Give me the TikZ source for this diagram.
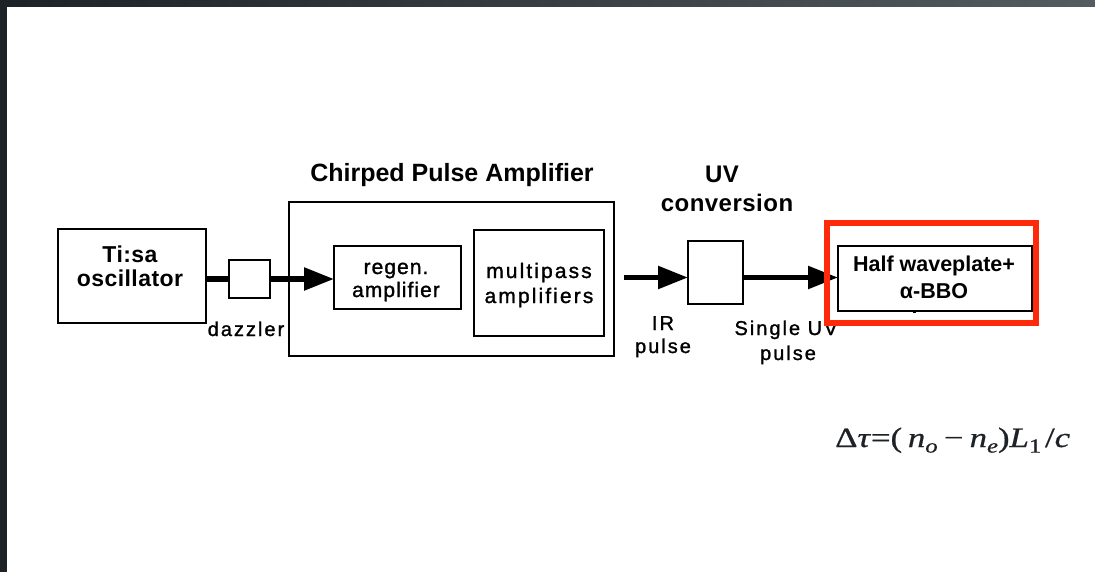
\documentclass[tikz,border=0pt]{standalone}
\usepackage{fontspec}
\usepackage{graphicx}
\setmainfont{Liberation Sans}
\newfontfamily\wideface[LetterSpace=10, FakeBold=1.3]{Liberation Sans}
\newfontfamily\headface[LetterSpace=2]{Liberation Sans}
\newfontfamily\eqface[FakeBold=0.6]{Liberation Serif}
\usetikzlibrary{arrows.meta}
\definecolor{slateframe}{HTML}{1C2226}
\definecolor{slatelight}{HTML}{535C61}
\definecolor{markred}{HTML}{FF2A0A}
\definecolor{formulaink}{HTML}{1E2226}
\tikzset{
  box/.style={draw, line width=2pt, inner sep=0pt, outer sep=0pt},
  beam/.style={line width=5.5pt},
  beamtip/.style={beam, -{Triangle[length=30pt,width=22pt]}},
  boldlbl/.style={anchor=base, inner sep=0pt, font=\fontsize{23}{26}\headface\bfseries},
  plainlbl/.style={anchor=base, inner sep=0pt, font=\fontsize{21}{24}\wideface},
  smalllbl/.style={anchor=base, inner sep=0pt, font=\fontsize{20}{24}\wideface},
}
\newcommand{\eqsub}[1]{\raisebox{-0.2em}{\fontsize{20}{24}\selectfont#1}}
\begin{document}
\begin{tikzpicture}[x=1pt,y=-1pt]
\useasboundingbox (0,0) rectangle (1095,572);
% slide frame
\fill[slateframe] (0,0) rectangle (1095,572);
\shade[left color=slateframe, right color=slatelight] (0,0) rectangle (1095,7);
\fill[white] (7,7) rectangle (1095,572);

% blocks
\node[box, minimum width=148pt, minimum height=94pt] (osc) at (132,276) {};
\node[box, minimum width=41pt, minimum height=38pt] (dazz) at (249.5,279) {};
\node[box, minimum width=325pt, minimum height=154pt] (cpa) at (451.5,279) {};
\node[box, minimum width=127pt, minimum height=63pt] (regen) at (397.5,277.5) {};
\node[box, minimum width=130pt, minimum height=106pt] (multi) at (539,283) {};
\node[box, minimum width=55pt, minimum height=63pt] (uv) at (715.5,272.5) {};
\node[box, minimum width=194pt, minimum height=65pt] (hwp) at (935,278.5) {};
\fill (912.5,309.5) rectangle (916,313);

% block texts
\node[boldlbl] (osc1) at (130,262) {Ti:sa};
\node[boldlbl] (osc2) at (130,287) {oscillator};
\node[boldlbl, font=\fontsize{25}{28}\selectfont\bfseries] (cpat) at (452,182) {Chirped Pulse Amplifier};
\node[plainlbl, font=\fontsize{21}{24}\wideface\addfontfeature{LetterSpace=5}] (regen1) at (396,274) {regen.};
\node[plainlbl, font=\fontsize{21}{24}\wideface\addfontfeature{LetterSpace=5}] (regen2) at (396,297) {amplifier};
\node[plainlbl] (multi1) at (539,278) {multipass};
\node[plainlbl] (multi2) at (539,303) {amplifiers};
\node[boldlbl, font=\fontsize{24}{28}\headface\bfseries] (uvt1) at (722,183) {UV};
\node[boldlbl, font=\fontsize{24}{28}\headface\bfseries] (uvt2) at (727,212) {conversion};
\node[boldlbl, font=\fontsize{21.5}{24}\selectfont\bfseries] (hwp1) at (934,272) {Half waveplate+};
\node[boldlbl, font=\fontsize{21.5}{24}\selectfont\bfseries] (hwp2) at (934,298) {α-BBO};

% beam labels
\node[smalllbl] (dazzt) at (246,336) {dazzler};
\node[smalllbl] (ir1) at (663,330) {IR};
\node[smalllbl] (ir2) at (663,353) {pulse};
\node[smalllbl] (sgl1) at (786,335) {Single UV};
\node[smalllbl] (sgl2) at (788,360) {pulse};

% beam path
\coordinate (irstart) at (624,277.5);
\draw[beam] (osc.east |- dazz.west) -- (dazz.west);
\draw[beamtip] (dazz.east) -- (dazz.east -| regen.west);
\draw[beamtip] (irstart) -- (irstart -| uv.west);
\draw[beamtip] (uv.east |- irstart) -- (irstart -| hwp.west);

% highlight frame
\node[draw=markred, line width=6pt, inner sep=0pt, minimum width=209pt, minimum height=100pt] (focus) at (931.5,273) {};

% delay formula
\node[anchor=base west, inner sep=0pt, text=formulaink, font=\fontsize{28}{34}\eqface] (delay) at (835,447)
  {\scalebox{1.24}[1]{Δ\textit{τ}=(\,\textit{n}\eqsub{\textit{o}}\hspace{5pt}−\hspace{5pt}\textit{n}\eqsub{\textit{e}})\textit{L}\eqsub{1}\hspace{3pt}/\textit{c}}};
\end{tikzpicture}
\end{document}
